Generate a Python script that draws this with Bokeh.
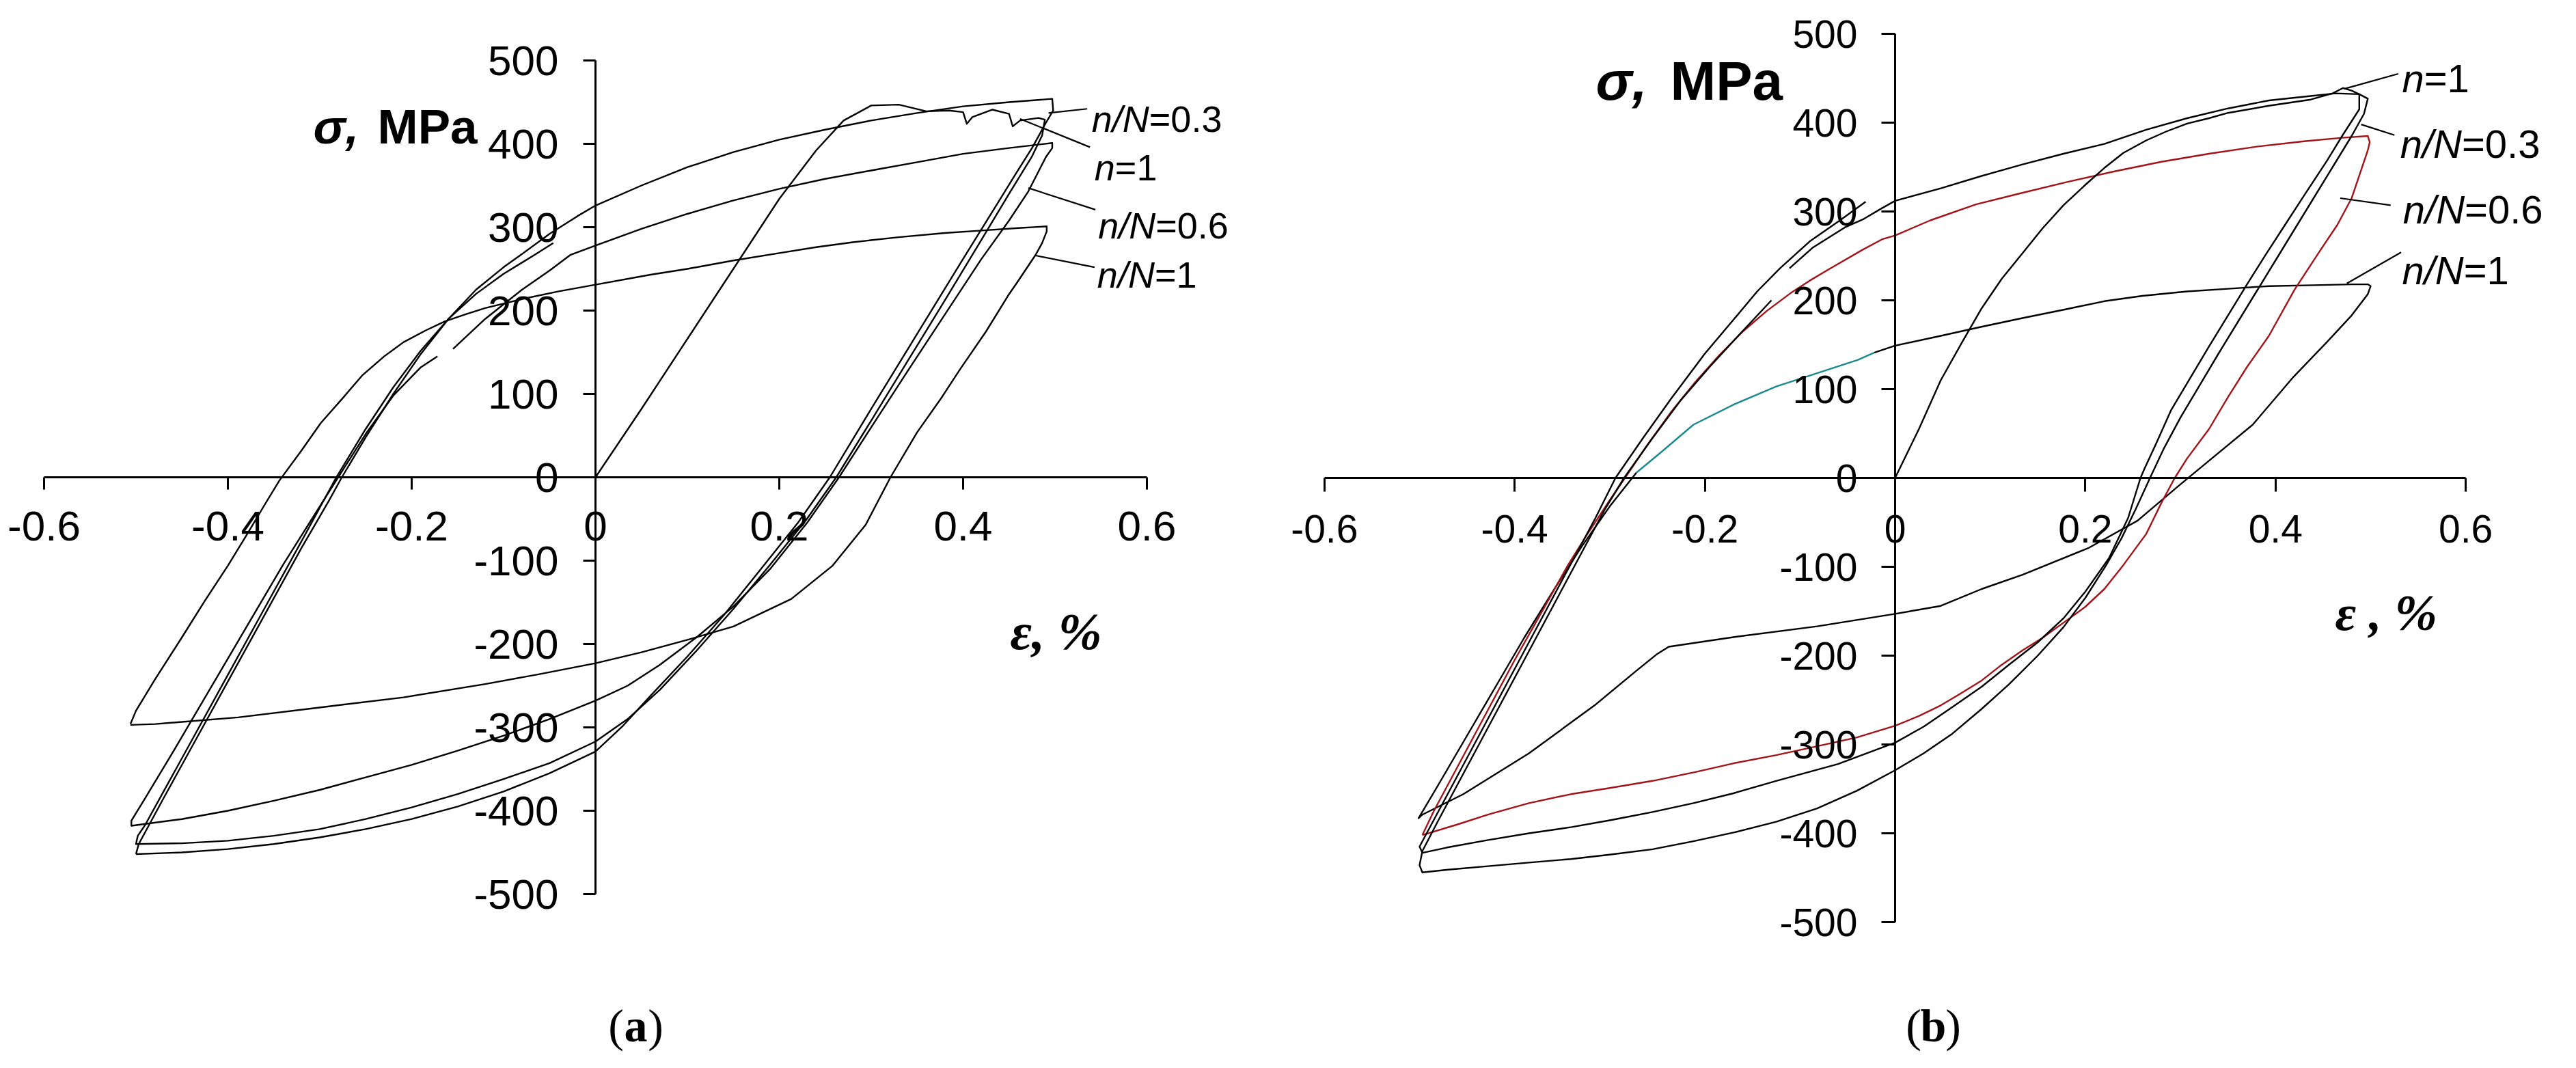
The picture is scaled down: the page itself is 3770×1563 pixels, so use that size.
from bokeh.plotting import figure
from bokeh.layouts import row
from bokeh.models import Range1d, FixedTicker, ColumnDataSource
from bokeh.core.properties import value
from bokeh.embed import file_html
from bokeh.resources import INLINE

# ---------------- ticks ----------------
X_TICKS = [-0.6, -0.4, -0.2, 0, 0.2, 0.4, 0.6]
X_TICK_LABELS = ["-0.6", "-0.4", "-0.2", "0", "0.2", "0.4", "0.6"]
Y_TICKS = [-500, -400, -300, -200, -100, 0, 100, 200, 300, 400, 500]
Y_TICK_LABELS = ["-500", "-400", "-300", "-200", "-100", "0", "100", "200", "300", "400", "500"]

# ---------------- panel (a) ----------------
a_n1_x = [0, 0.05, 0.10, 0.15, 0.20, 0.24, 0.27, 0.30, 0.33, 0.36, 0.385, 0.400, 0.404, 0.410, 0.432, 0.450, 0.454, 0.462, 0.482, 0.489,
          0.486, 0.475, 0.45, 0.42, 0.38, 0.34, 0.30, 0.262, 0.23, 0.19, 0.15, 0.11, 0.07, 0.035, 0, -0.05, -0.10, -0.15, -0.20, -0.25,
          -0.30, -0.35, -0.40, -0.45, -0.50, -0.498, -0.49, -0.47, -0.44, -0.40, -0.36, -0.32, -0.282, -0.25, -0.22, -0.19, -0.16,
          -0.13, -0.10, -0.066, -0.046]
a_n1_y = [0, 82, 166, 250, 334, 392, 428, 446, 447, 439, 440, 438, 424, 432, 441, 436, 421, 428, 431, 429,
          410, 385, 340, 285, 212, 140, 68, 0, -50, -105, -158, -208, -255, -290, -317, -343, -362, -380, -396, -410,
          -422, -430, -436, -439, -440, -430, -417, -377, -317, -237, -157, -77, 0, 58, 108, 152, 190,
          220, 244, 267, 281]

a_03_x = [-0.50, -0.497, -0.47, -0.44, -0.40, -0.36, -0.32, -0.29, -0.276, -0.25, -0.22, -0.19, -0.16, -0.13, -0.10, -0.081,
          -0.05, -0.02, 0, 0.05, 0.10, 0.15, 0.20, 0.25, 0.30, 0.35, 0.40, 0.45, 0.497,
          0.498, 0.49, 0.475, 0.455, 0.44, 0.40, 0.35, 0.30, 0.255, 0.22, 0.18, 0.14, 0.10, 0.06, 0.03, 0, -0.05, -0.10, -0.15,
          -0.20, -0.25, -0.30, -0.35, -0.40, -0.45, -0.50]
a_03_y = [-452, -440, -385, -325, -245, -165, -85, -28, 0, 48, 100, 148, 190, 225, 252, 267,
          292, 313, 326, 350, 372, 390, 405, 417, 428, 437, 445, 450, 454,
          440, 425, 395, 360, 333, 262, 172, 82, 0, -55, -110, -165, -215, -262, -298, -329, -355, -377, -395,
          -410, -422, -432, -440, -446, -450, -452]

a_06_x = [-0.155, -0.12, -0.08, -0.05, -0.027, 0, 0.05, 0.10, 0.15, 0.20, 0.25, 0.30, 0.35, 0.40, 0.45, 0.497,
          0.497, 0.49, 0.471, 0.45, 0.42, 0.38, 0.34, 0.30, 0.265, 0.23, 0.19, 0.15, 0.11, 0.07, 0.035, 0, -0.05, -0.10,
          -0.15, -0.20, -0.25, -0.30, -0.35, -0.40, -0.45, -0.505,
          -0.505, -0.49, -0.46, -0.42, -0.38, -0.34, -0.30, -0.28, -0.25, -0.22, -0.19, -0.172]
a_06_y = [154, 190, 225, 248, 267, 278, 298, 316, 332, 346, 358, 368, 378, 388, 395, 401,
          395, 384, 343, 308, 262, 195, 128, 60, 0, -55, -110, -155, -192, -225, -250, -268, -290, -310,
          -328, -345, -360, -375, -388, -400, -410, -418,
          -412, -385, -330, -255, -180, -105, -35, 0, 52, 98, 132, 145]

a_1_x = [-0.506, -0.50, -0.479, -0.45, -0.425, -0.40, -0.38, -0.36, -0.344, -0.32, -0.299, -0.275, -0.254, -0.23, -0.209,
         -0.185, -0.164, -0.14, -0.12, -0.075, -0.04, 0, 0.06, 0.10, 0.15, 0.20, 0.24, 0.28, 0.33, 0.38, 0.42, 0.46, 0.491,
         0.491, 0.486, 0.479, 0.459, 0.449, 0.425, 0.397, 0.375, 0.35, 0.321, 0.294, 0.258, 0.213, 0.15, 0.10, 0.05, 0,
         -0.06, -0.12, -0.209, -0.299, -0.389, -0.479, -0.506]
a_1_y = [-296, -280, -242, -192, -148, -106, -70, -33, -4, 32, 65, 95, 122, 145, 162,
         176, 187, 196, 203, 215, 223, 231, 243, 250, 260, 269, 276, 282, 288, 293, 296, 299, 301,
         295, 281, 267, 234, 218, 175, 130, 93, 54, 0, -57, -106, -146, -179, -195, -210, -223,
         -236, -248, -264, -276, -288, -296, -297]

a_lab_x = [0.540, 0.543, 0.547, 0.546]
a_lab_y = [430, 372, 302, 243]
a_lab_it = ["n/N", "n", "n/N", "n/N"]
a_lab_rest = ["=0.3", "=1", "=0.6", "=1"]
a_lead_x0 = [0.493, 0.462, 0.471, 0.479]
a_lead_y0 = [437, 430, 347, 266]
a_lead_x1 = [0.535, 0.538, 0.544, 0.543]
a_lead_y1 = [442, 396, 321, 252]

# ---------------- panel (b) ----------------
b_n1_x = [0, 0.025, 0.048, 0.07, 0.091, 0.112, 0.134, 0.155, 0.177, 0.20, 0.22, 0.24, 0.264, 0.285, 0.307, 0.33, 0.35,
          0.393, 0.437, 0.46, 0.471, 0.48, 0.488,
          0.488, 0.47, 0.454, 0.43, 0.41, 0.39, 0.37, 0.35, 0.33, 0.31, 0.29, 0.275, 0.262, 0.258, 0.245, 0.225, 0.20,
          0.177, 0.15, 0.12, 0.091, 0.06, 0.03, 0, -0.06, -0.125, -0.17, -0.212, -0.255, -0.298, -0.34, -0.385, -0.43,
          -0.471, -0.497,
          -0.50, -0.49, -0.46, -0.43, -0.40, -0.37, -0.34, -0.315, -0.294, -0.265, -0.235, -0.20, -0.17, -0.145, -0.121,
          -0.089, -0.058, -0.031]
b_n1_y = [0, 55, 110, 152, 191, 224, 253, 281, 307, 330, 349, 366, 380, 390, 399, 405, 411,
          419, 426, 433, 439, 436, 432,
          415, 385, 357, 318, 285, 252, 218, 183, 148, 112, 76, 40, 10, 0, -45, -90, -128,
          -158, -185, -210, -235, -258, -280, -298, -322, -341, -355, -366, -376, -385, -393, -400, -408,
          -416, -422,
          -415, -395, -335, -275, -215, -155, -95, -45, 0, 45, 90, 140, 178, 210, 236,
          267, 290, 311]

b_03_x = [-0.111, -0.087, -0.053, -0.034, -0.015, 0, 0.048, 0.091, 0.134, 0.177, 0.22, 0.264, 0.307, 0.35, 0.393, 0.437,
          0.463, 0.488, 0.497,
          0.493, 0.48, 0.46, 0.44, 0.42, 0.40, 0.38, 0.36, 0.34, 0.32, 0.30, 0.282, 0.268, 0.253, 0.238, 0.222, 0.20, 0.177,
          0.15, 0.12, 0.091, 0.06, 0.03, 0, -0.04, -0.082, -0.125, -0.169, -0.212, -0.255, -0.30, -0.341, -0.385, -0.428,
          -0.47, -0.497,
          -0.50, -0.497, -0.48, -0.45, -0.42, -0.39, -0.36, -0.33, -0.305, -0.285, -0.255, -0.225, -0.195, -0.165, -0.13]
b_03_y = [236, 259, 282, 291, 303, 312, 326, 340, 353, 365, 376, 392, 405, 416, 425, 430,
          433, 432, 427,
          410, 385, 350, 315, 280, 245, 210, 175, 140, 104, 68, 32, 0, -35, -68, -98, -135, -168,
          -200, -232, -260, -288, -310, -329, -352, -372, -387, -399, -409, -418, -424, -429, -433, -437,
          -441, -444,
          -436, -420, -385, -325, -265, -205, -145, -85, -35, 0, 45, 88, 125, 160, 200]

b_06_x = [-0.497, -0.485, -0.46, -0.43, -0.40, -0.37, -0.345, -0.324, -0.30, -0.284, -0.26, -0.235, -0.21, -0.185, -0.16,
          -0.135, -0.11, -0.09, -0.068, -0.034, -0.013, 0, 0.037, 0.085, 0.13, 0.18, 0.23, 0.28, 0.33, 0.38, 0.43, 0.47, 0.497,
          0.499, 0.497, 0.48, 0.465, 0.445, 0.42, 0.393, 0.37, 0.35, 0.33, 0.307, 0.294, 0.28, 0.264, 0.24, 0.22, 0.20,
          0.177, 0.155, 0.134, 0.11, 0.091, 0.07, 0.048, 0.025, 0, -0.04, -0.082, -0.125, -0.169, -0.21, -0.255, -0.30,
          -0.341, -0.385, -0.428, -0.46, -0.497]
b_06_y = [-402, -375, -325, -265, -205, -148, -100, -64, -25, 0, 38, 75, 108, 138, 165,
          188, 208, 222, 236, 257, 269, 273, 290, 308, 320, 333, 345, 356, 365, 373, 379, 383, 385,
          378, 369, 315, 285, 253, 212, 160, 125, 91, 55, 22, 0, -28, -63, -98, -125, -145,
          -163, -180, -194, -212, -228, -242, -256, -268, -279, -292, -302, -312, -321, -331, -341, -349,
          -356, -366, -379, -390, -402]

b_1_x = [-0.022, 0, 0.048, 0.09, 0.134, 0.18, 0.22, 0.26, 0.307, 0.35, 0.393, 0.44, 0.48, 0.497, 0.50,
         0.497, 0.48, 0.454, 0.419, 0.376, 0.333, 0.298, 0.255, 0.203, 0.134, 0.091, 0.048, 0, -0.082, -0.169, -0.238,
         -0.25, -0.272, -0.316, -0.385, -0.454, -0.497, -0.501,
         -0.48, -0.45, -0.42, -0.39, -0.36, -0.33, -0.30, -0.272]
b_1_y = [141, 149, 160, 170, 180, 190, 199, 205, 210, 213, 216, 217, 218, 218, 216,
         207, 183, 153, 114, 60, 22, -9, -48, -79, -109, -125, -144, -153, -167, -179, -190,
         -198, -217, -256, -310, -356, -379, -383,
         -345, -290, -235, -180, -128, -78, -32, 6]

b_teal_x = [-0.272, -0.246, -0.212, -0.169, -0.125, -0.082, -0.039, -0.022]
b_teal_y = [6, 29, 60, 83, 103, 118, 133, 141]

b_lab_x = [0.533, 0.531, 0.534, 0.533]
b_lab_y = [450, 376, 302, 234]
b_lab_it = ["n", "n/N", "n/N", "n/N"]
b_lab_rest = ["=1", "=0.3", "=0.6", "=1"]
b_lead_x0 = [0.472, 0.490, 0.468, 0.475]
b_lead_y0 = [438, 398, 315, 219]
b_lead_x1 = [0.529, 0.525, 0.521, 0.532]
b_lead_y1 = [455, 386, 307, 254]

SANS = "Liberation Sans"
SERIF = "Liberation Serif"
EM_W = {"n/N": 1.556, "n": 0.556}


def make_panel(width, height, xr, yr, tick_px, tick_out, x_standoff, y_standoff):
    p = figure(width=width, height=height, x_range=Range1d(*xr), y_range=Range1d(*yr),
               output_backend="svg", toolbar_location=None, min_border=0,
               outline_line_color=None, background_fill_color="white", border_fill_color="white")
    p.xgrid.visible = False
    p.ygrid.visible = False
    xa = p.xaxis[0]
    ya = p.yaxis[0]
    xa.fixed_location = 0
    ya.fixed_location = 0
    xa.ticker = FixedTicker(ticks=X_TICKS)
    ya.ticker = FixedTicker(ticks=Y_TICKS)
    xa.major_label_overrides = {t: l for t, l in zip(X_TICKS, X_TICK_LABELS)}
    ya.major_label_overrides = {t: l for t, l in zip(Y_TICKS, Y_TICK_LABELS)}
    xa.bounds = (X_TICKS[0], X_TICKS[-1])
    ya.bounds = (Y_TICKS[0], Y_TICKS[-1])
    for ax, so in ((xa, x_standoff), (ya, y_standoff)):
        ax.axis_line_width = 3
        ax.axis_line_color = "black"
        ax.major_tick_line_width = 3
        ax.major_tick_line_color = "black"
        ax.major_tick_out = tick_out
        ax.major_tick_in = 0
        ax.minor_tick_out = 0
        ax.minor_tick_in = 0
        ax.minor_tick_line_color = None
        ax.major_label_text_font = SANS
        ax.major_label_text_font_size = f"{tick_px}px"
        ax.major_label_text_color = "black"
        ax.major_label_standoff = so
    return p


def add_curve(p, xs, ys, color="black", width=2.4):
    p.line(x=xs, y=ys, line_color=color, line_width=width, line_join="round")


def add_labels(p, lx, ly, lit, lrest, x0, y0, x1, y1, fs):
    p.segment(x0=x0, y0=y0, x1=x1, y1=y1, line_color="black", line_width=2.2)
    src = ColumnDataSource(dict(x=lx, y=ly, it=lit, rest=lrest,
                                off=[EM_W[s] * fs for s in lit]))
    p.text(x="x", y="y", text="it", source=src, text_font=value(SANS), text_font_style="italic",
           text_font_size=value(f"{fs}px"), text_align="left", text_baseline="alphabetic", text_color="black")
    p.text(x="x", y="y", text="rest", source=src, x_offset="off", text_font=value(SANS),
           text_font_size=value(f"{fs}px"), text_align="left", text_baseline="alphabetic", text_color="black")


def add_titles(p, sx, sy, s_fs, mpa_off, ex, ey, e_txt, e_fs, cx, cy, letter, c_fs):
    p.text(x=[sx], y=[sy], text=["σ,"], text_font=value(SANS), text_font_style="bold italic",
           text_font_size=value(f"{s_fs}px"), text_baseline="alphabetic", text_color="black")
    p.text(x=[sx], y=[sy], text=["MPa"], x_offset=mpa_off, text_font=value(SANS), text_font_style="bold",
           text_font_size=value(f"{s_fs}px"), text_baseline="alphabetic", text_color="black")
    p.text(x=[ex], y=[ey], text=[e_txt], text_font=value(SERIF), text_font_style="bold italic",
           text_font_size=value(f"{e_fs}px"), text_baseline="alphabetic", text_color="black")
    half = 0.26 * c_fs
    p.text(x=[cx], y=[cy], text=[letter], text_font=value(SERIF), text_font_style="bold",
           text_font_size=value(f"{c_fs}px"), text_align="center", text_baseline="alphabetic", text_color="black")
    p.text(x=[cx], y=[cy], text=["("], x_offset=-half, text_font=value(SERIF),
           text_font_size=value(f"{c_fs}px"), text_align="right", text_baseline="alphabetic", text_color="black")
    p.text(x=[cx], y=[cy], text=[")"], x_offset=half, text_font=value(SERIF),
           text_font_size=value(f"{c_fs}px"), text_align="left", text_baseline="alphabetic", text_color="black")


W = 1877
H = 1547
CAP_BASE = 1508  # page y of the "(a)"/"(b)" baseline

# panel (a): px = 879 + 1345*x, py = 706 - 1.22*y (page coords)
pa = make_panel(W, H, ((8 - 879) / 1345, (1885 - 879) / 1345), ((706 - 1555) / 1.22, (706 - 8) / 1.22),
                62, 18, 32, 36)
for xs, ys in ((a_1_x, a_1_y), (a_06_x, a_06_y), (a_03_x, a_03_y), (a_n1_x, a_n1_y)):
    add_curve(pa, xs, ys)
add_labels(pa, a_lab_x, a_lab_y, a_lab_it, a_lab_rest, a_lead_x0, a_lead_y0, a_lead_x1, a_lead_y1, 54)
add_titles(pa, (466 - 879) / 1345, (706 - 193) / 1.22, 71, 94,
           (1486 - 879) / 1345, (706 - 931) / 1.22, "ε, %", 77,
           (938 - 879) / 1345, (706 - CAP_BASE) / 1.22, "a", 68)

# panel (b): px = 2781 + 1392*x, py = 707 - 1.30*y
pb = make_panel(W, H, ((1885 - 2781) / 1392, (3762 - 2781) / 1392), ((707 - 1555) / 1.30, (707 - 8) / 1.30),
                57, 20, 34, 35)
add_curve(pb, b_1_x, b_1_y)
add_curve(pb, b_teal_x, b_teal_y, color="#1b8a8c")
add_curve(pb, b_06_x, b_06_y, color="#a3141a")
add_curve(pb, b_03_x, b_03_y)
add_curve(pb, b_n1_x, b_n1_y)
add_labels(pb, b_lab_x, b_lab_y, b_lab_it, b_lab_rest, b_lead_x0, b_lead_y0, b_lead_x1, b_lead_y1, 58)
add_titles(pb, (2343 - 2781) / 1392, (707 - 126) / 1.30, 80, 109,
           (3425 - 2781) / 1392, (707 - 904) / 1.30, "ε , %", 75,
           (2837 - 2781) / 1392, (707 - CAP_BASE) / 1.30, "b", 68)

layout = row(pa, pb)
open("out.html", "w").write(file_html(layout, INLINE))
